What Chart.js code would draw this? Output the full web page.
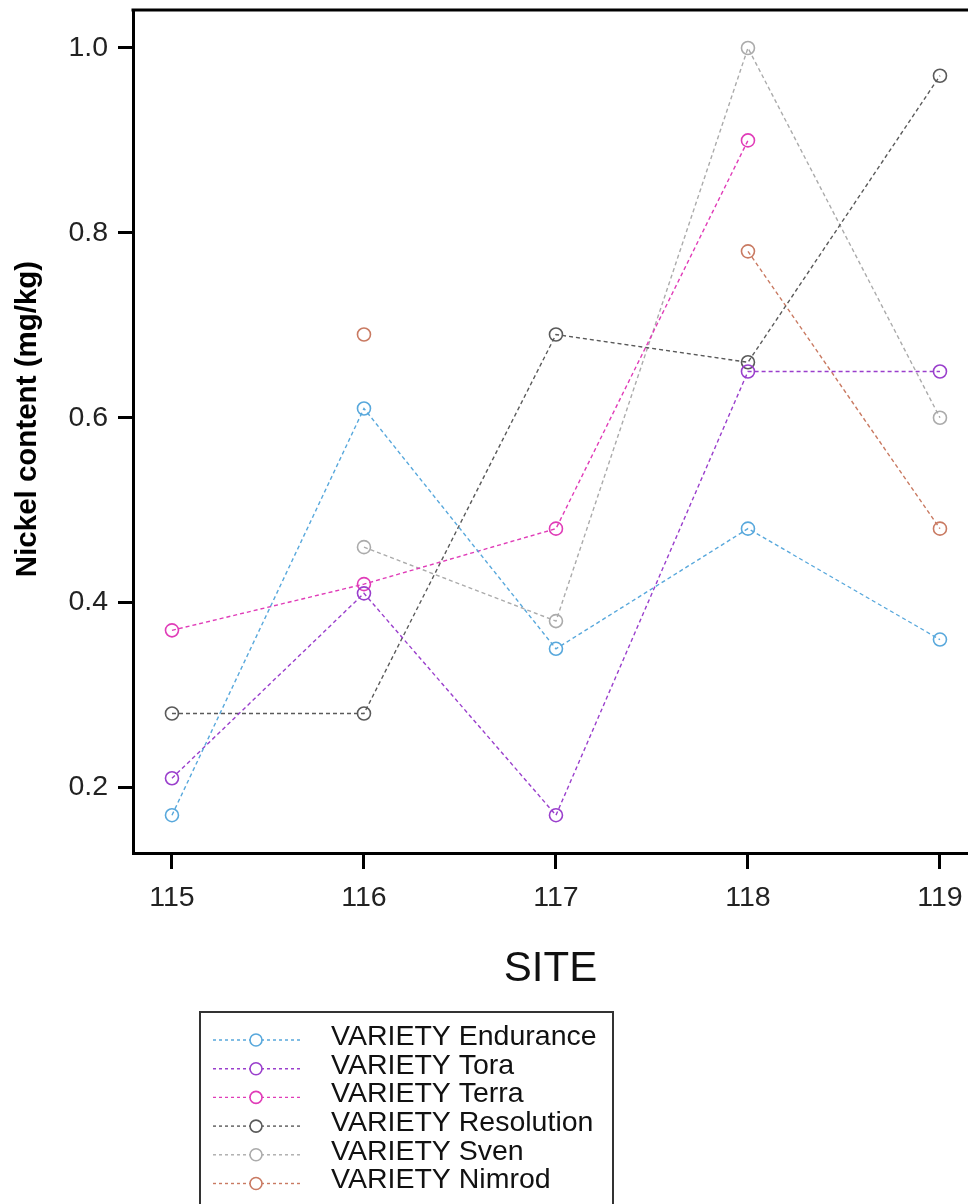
<!DOCTYPE html>
<html>
<head>
<meta charset="utf-8">
<script src="https://cdn.jsdelivr.net/npm/chart.js@4.4.1/dist/chart.umd.min.js"></script>
<style>
  html, body { margin: 0; padding: 0; background: #fff; }
  #wrap { width: 968px; height: 1204px; position: relative; }
</style>
</head>
<body>
<div id="wrap"><canvas id="c" width="968" height="1204"></canvas></div>
<script>
// ---- data ----
const sites = [115, 116, 117, 118, 119];
const yTicks = [0.2, 0.4, 0.6, 0.8, 1.0];
const seriesNames = ['VARIETY Endurance', 'VARIETY Tora', 'VARIETY Terra', 'VARIETY Resolution', 'VARIETY Sven', 'VARIETY Nimrod'];
const endurance  = [0.17, 0.61, 0.35, 0.48, 0.36];
const tora       = [0.21, 0.41, 0.17, 0.65, 0.65];
const terra      = [0.37, 0.42, 0.48, 0.90, null];
const resolution = [0.28, 0.28, 0.69, 0.66, 0.97];
const sven       = [null, 0.46, 0.38, 1.00, 0.60];
const nimrod     = [null, 0.69, null, 0.78, 0.48];
const yTitle = 'Nickel content (mg/kg)';
const xTitle = 'SITE';

const seriesValues = [endurance, tora, terra, resolution, sven, nimrod];
const seriesColors = ['#58a8dc', '#9a3fcc', '#e03cb8', '#5a5a5a', '#ababab', '#c97a62'];

const datasets = seriesNames.map((name, i) => ({
  label: name,
  data: sites.map((s, j) => ({ x: s, y: seriesValues[i][j] })),
  borderColor: seriesColors[i],
  backgroundColor: 'rgba(255,255,255,0)',
  pointBorderColor: seriesColors[i],
  pointBackgroundColor: 'rgba(255,255,255,0)',
  borderWidth: 1.4,
  borderDash: [4, 3],
  pointRadius: 6.5,
  pointBorderWidth: 1.6,
  pointHoverRadius: 6.5,
  spanGaps: false,
  tension: 0
}));

const FONT = '"Liberation Sans", Arial, Helvetica, sans-serif';

const extrasPlugin = {
  id: 'extras',
  afterDraw(chart) {
    const ctx = chart.ctx;
    const ca = chart.chartArea;
    ctx.save();
    // top frame line
    ctx.strokeStyle = '#000';
    ctx.lineWidth = 3;
    ctx.beginPath();
    ctx.moveTo(ca.left - 1.5, ca.top);
    ctx.lineTo(chart.width, ca.top);
    ctx.stroke();

    // y axis title
    ctx.save();
    ctx.translate(28, 419);
    ctx.rotate(-Math.PI / 2);
    ctx.font = 'bold 29.5px ' + FONT;
    ctx.fillStyle = '#000';
    ctx.textAlign = 'center';
    ctx.textBaseline = 'middle';
    ctx.fillText(yTitle, 0, 0);
    ctx.restore();

    // legend box
    const bx = 200, by = 1012, bw = 413, bh = 260;
    ctx.lineWidth = 2;
    ctx.strokeStyle = '#333';
    ctx.strokeRect(bx, by, bw, bh);
    const rowY0 = 1037, rowH = 28.7;
    ctx.font = '28.5px ' + FONT;
    ctx.textBaseline = 'middle';
    ctx.textAlign = 'left';
    chart.data.datasets.forEach((ds, i) => {
      const y = rowY0 + i * rowH;
      const sy = y + 3;
      ctx.strokeStyle = ds.borderColor;
      ctx.lineWidth = 1.4;
      ctx.setLineDash([3, 3]);
      ctx.beginPath();
      ctx.moveTo(213, sy);
      ctx.lineTo(300, sy);
      ctx.stroke();
      ctx.setLineDash([]);
      ctx.lineWidth = 1.6;
      ctx.beginPath();
      ctx.arc(256, sy, 6, 0, Math.PI * 2);
      ctx.fillStyle = '#fff';
      ctx.fill();
      ctx.stroke();
      ctx.fillStyle = '#111';
      ctx.fillText(ds.label, 331, y);
    });
    ctx.restore();
  }
};

new Chart(document.getElementById('c'), {
  type: 'line',
  data: { datasets },
  plugins: [extrasPlugin],
  options: {
    responsive: false,
    animation: false,
    devicePixelRatio: 1,
    layout: { autoPadding: false, padding: { top: 10, left: 0, right: 0, bottom: 0 } },
    plugins: { legend: { display: false }, tooltip: { enabled: false } },
    elements: { line: { borderCapStyle: 'butt' } },
    scales: {
      x: {
        type: 'linear',
        min: 114.797,
        max: 119.146,
        afterBuildTicks: (s) => { s.ticks = sites.map(v => ({ value: v })); },
        afterFit: (s) => { s.height = 1204 - 853; s.paddingLeft = 0; s.paddingRight = 0; },
        ticks: {
          font: { family: FONT, size: 28.5, lineHeight: 1.75 },
          color: '#222',
          padding: 4,
          maxRotation: 0,
          autoSkip: false,
          callback: (v) => String(v)
        },
        grid: { drawOnChartArea: false, drawTicks: true, tickLength: 16, tickWidth: 3, tickColor: '#000', color: '#000' },
        border: { display: true, width: 3, color: '#000' },
        title: {
          display: true,
          text: xTitle,
          font: { family: FONT, size: 42 },
          color: '#111',
          padding: { top: 0, bottom: 209 }
        }
      },
      y: {
        type: 'linear',
        min: 0.1291,
        max: 1.0411,
        afterBuildTicks: (s) => { s.ticks = yTicks.map(v => ({ value: v })); },
        afterFit: (s) => { s.width = 133; s.paddingTop = 0; s.paddingBottom = 0; },
        ticks: {
          font: { family: FONT, size: 28.5 },
          color: '#222',
          padding: 10,
          callback: (v) => Number(v).toFixed(1)
        },
        grid: { drawOnChartArea: false, drawTicks: true, tickLength: 15, tickWidth: 3, tickColor: '#000', color: '#000' },
        border: { display: true, width: 3, color: '#000' },
        title: { display: false }
      }
    }
  }
});
</script>
</body>
</html>
